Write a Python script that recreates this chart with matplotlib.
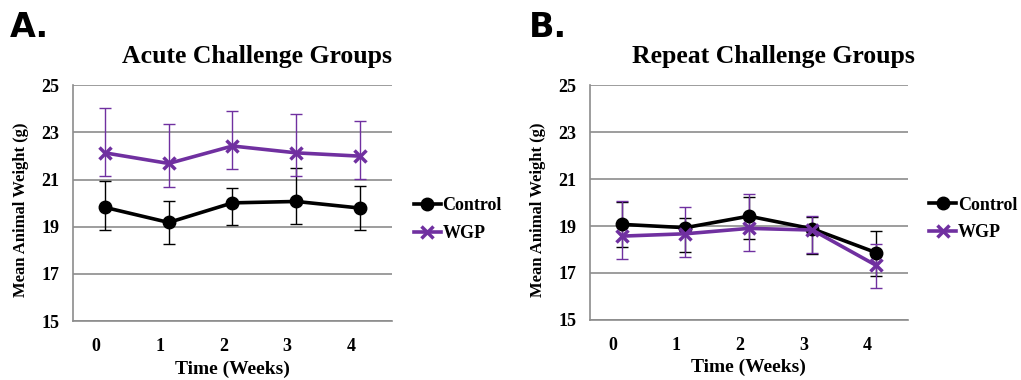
import numpy as np
import matplotlib
matplotlib.use('Agg')
import matplotlib.pyplot as plt
import matplotlib.transforms as mtransforms
from matplotlib.lines import Line2D

weeks = [0, 1, 2, 3, 4]
week_labels = ['0', '1', '2', '3', '4']
y_ticks = [15, 17, 19, 21, 23, 25]

# acute challenge groups
acute_control = [19.82, 19.18, 20.01, 20.07, 19.79]
acute_control_up = [1.11, 0.93, 0.64, 1.41, 0.94]
acute_control_down = [0.98, 0.93, 0.95, 0.97, 0.95]
acute_wgp = [22.13, 21.68, 22.42, 22.13, 21.99]
acute_wgp_up = [1.92, 1.68, 1.49, 1.64, 1.47]
acute_wgp_down = [0.99, 0.99, 0.99, 0.96, 0.97]

# repeat challenge groups
repeat_control = [19.07, 18.93, 19.42, 18.88, 17.87]
repeat_control_up = [0.97, 0.41, 0.82, 0.51, 0.93]
repeat_control_down = [0.97, 1.04, 0.99, 1.08, 0.99]
repeat_wgp = [18.57, 18.67, 18.90, 18.83, 17.33]
repeat_wgp_up = [1.49, 1.12, 1.45, 0.59, 0.92]
repeat_wgp_down = [0.96, 0.99, 0.96, 0.99, 0.95]

PURPLE = '#7030A0'
SERIF = ['Liberation Serif', 'DejaVu Serif']


def draw_panel(ax, title, control, c_down, c_up, wgp, w_down, w_up):
    # error bars first (thin), then the lines with markers
    ax.errorbar(weeks, control, yerr=[c_down, c_up], fmt='none', ecolor='black',
                elinewidth=1, capsize=4, capthick=1, zorder=2)
    ax.errorbar(weeks, wgp, yerr=[w_down, w_up], fmt='none', ecolor=PURPLE,
                elinewidth=1, capsize=4, capthick=1, zorder=2)
    ax.plot(weeks, control, color='black', lw=2.6, marker='o', ms=9, zorder=3)
    ax.plot(weeks, wgp, color=PURPLE, lw=2.6, marker='x', ms=8, mew=2.5, zorder=3)
    ax.set_xlim(-0.5, 4.5)
    ax.set_ylim(15, 25)
    ax.set_yticks(y_ticks)
    ax.set_xticks(weeks)
    ax.set_xticklabels(week_labels)
    ax.yaxis.grid(True, color='#8c8c8c', lw=1.2)
    ax.set_axisbelow(True)
    for s in ['top', 'right']:
        ax.spines[s].set_visible(False)
    for s in ['left', 'bottom']:
        ax.spines[s].set_color('#8c8c8c')
        ax.spines[s].set_linewidth(1.2)
    ax.tick_params(axis='x', length=0, pad=12)
    ax.tick_params(axis='y', length=0, pad=10)
    for lab in ax.get_xticklabels() + ax.get_yticklabels():
        lab.set_family(SERIF)
        lab.set_fontweight('bold')
        lab.set_fontsize(13)
    # tick labels sit a little left of the points in the original
    offset = mtransforms.ScaledTranslation(-0.09, 0, ax.figure.dpi_scale_trans)
    for lab in ax.get_xticklabels():
        lab.set_transform(lab.get_transform() + offset)
    ax.set_xlabel('Time (Weeks)', family=SERIF, fontweight='bold', fontsize=14, labelpad=4)
    ax.set_ylabel('Mean Animal Weight (g)', family=SERIF, fontweight='bold', fontsize=12)
    ax.yaxis.set_label_coords(-0.138, 0.47)
    ax.set_title(title, family=SERIF, fontweight='bold', fontsize=18.5, pad=16, x=0.578)

    handles = [Line2D([0], [0], color='black', lw=2.6, marker='o', ms=9),
               Line2D([0], [0], color=PURPLE, lw=2.6, marker='x', ms=8, mew=2.5)]
    ax.legend(handles, ['Control', 'WGP'], loc='center left',
              bbox_to_anchor=(1.045, 0.43), frameon=False, handlelength=1.5,
              handletextpad=0.1, labelspacing=0.6, borderaxespad=0.0,
              prop={'family': SERIF, 'weight': 'bold', 'size': 13})


fig = plt.figure(figsize=(10.21, 3.8), dpi=100)
ax1 = fig.add_axes([0.0715, 0.155, 0.3124, 0.621])
ax2 = fig.add_axes([0.578, 0.158, 0.311, 0.618])

draw_panel(ax1, 'Acute Challenge Groups', acute_control, acute_control_down, acute_control_up,
           acute_wgp, acute_wgp_down, acute_wgp_up)
draw_panel(ax2, 'Repeat Challenge Groups', repeat_control, repeat_control_down, repeat_control_up,
           repeat_wgp, repeat_wgp_down, repeat_wgp_up)

fig.text(0.010, 0.903, 'A.', fontsize=24, fontweight='heavy', va='baseline',
         family=['DejaVu Sans'])
fig.text(0.518, 0.903, 'B.', fontsize=24, fontweight='heavy', va='baseline',
         family=['DejaVu Sans'])

fig.savefig('out.png', dpi=100)
